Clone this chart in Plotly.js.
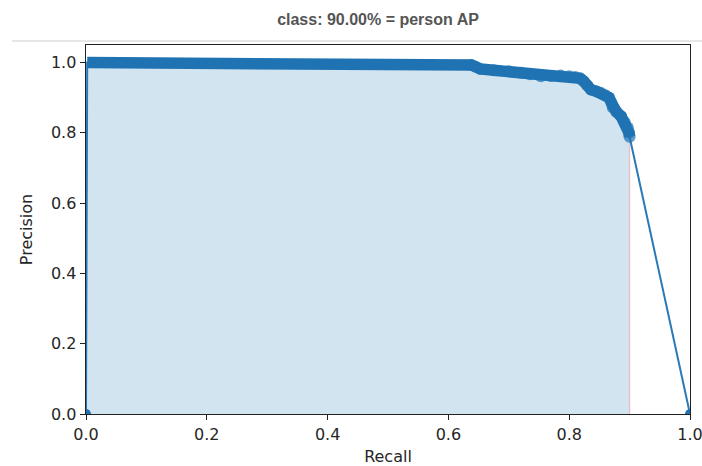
<!DOCTYPE html>
<html>
<head>
<meta charset="utf-8">
<script src="https://cdn.plot.ly/plotly-3.0.1.min.js"></script>
<style>html,body{margin:0;padding:0;background:#fff;}#chart{width:702px;height:466px;}</style>
</head>
<body>
<div id="chart"></div>
<script>
// Precision-recall curve points
const recall = [0.0, 0.002, 0.05, 0.1, 0.2, 0.3, 0.4, 0.476, 0.48, 0.55, 0.6, 0.638, 0.645, 0.653, 0.675, 0.70, 0.72, 0.735, 0.753, 0.77, 0.786, 0.80, 0.81, 0.818, 0.824, 0.83, 0.836, 0.845, 0.852, 0.86, 0.866, 0.87, 0.872, 0.878, 0.886, 0.892, 0.897, 0.899, 0.9, 1.0];
const precision = [0.0, 1.0, 1.0, 1.0, 1.0, 1.0, 1.0, 1.0, 0.993, 0.993, 0.993, 0.993, 0.988, 0.982, 0.978, 0.975, 0.971, 0.967, 0.961, 0.962, 0.963, 0.961, 0.959, 0.955, 0.947, 0.935, 0.923, 0.918, 0.914, 0.907, 0.90, 0.885, 0.872, 0.86, 0.847, 0.83, 0.815, 0.80, 0.789, 0.0];
const tickVals = [0.0, 0.2, 0.4, 0.6, 0.8, 1.0];
const tickText = ["0.0", "0.2", "0.4", "0.6", "0.8", "1.0"];
const titleText = "class: 90.00% = person AP";

// inner points (detections only), without the added endpoints
const innerR = recall.slice(1, recall.length - 1);
const innerP = precision.slice(1, precision.length - 1);
const lastR = innerR[innerR.length - 1];
const lastP = innerP[innerP.length - 1];

const fillTrace = {
  x: [0].concat(innerR).concat([lastR]),
  y: [innerP[0]].concat(innerP).concat([0]),
  mode: 'none', fill: 'tozeroy',
  fillcolor: 'rgba(31,119,180,0.2)',
  hoverinfo: 'skip', showlegend: false
};
const edgeTrace = {
  x: [lastR, lastR], y: [0, lastP], mode: 'lines',
  line: {color: 'rgba(240,150,160,0.55)', width: 1.3},
  hoverinfo: 'skip', showlegend: false
};
const thinTrace = {
  x: recall, y: precision, mode: 'lines',
  line: {color: '#2a7ab8', width: 2},
  showlegend: false
};
const bandTrace = {
  x: innerR, y: innerP, mode: 'lines+markers',
  line: {color: '#1f73b3', width: 11.5},
  marker: {color: '#1f73b3', size: innerR.map(r => (r > 0.6 ? 12 : 0)), line: {width: 0}},
  showlegend: false
};
const endTrace = {
  x: [recall[0], recall[recall.length - 1]],
  y: [precision[0], precision[precision.length - 1]],
  mode: 'markers', marker: {color: '#1f73b3', size: 10, line: {width: 0}},
  showlegend: false
};

const axFont = {family: 'DejaVu Sans', size: 16, color: '#262626'};
const layout = {
  width: 702, height: 466,
  margin: {l: 86, r: 12, t: 45, b: 52},
  paper_bgcolor: '#fff', plot_bgcolor: '#fff',
  title: {text: '<b>' + titleText + '</b>', x: 378 / 702, xref: 'container', xanchor: 'center',
          y: 1 - 19 / 466, yref: 'container', yanchor: 'middle',
          font: {family: 'Liberation Sans', size: 16, color: '#555'}},
  xaxis: {range: [0, 1], tickvals: tickVals, ticktext: tickText, ticks: 'outside', ticklen: 5,
          tickcolor: '#222', showgrid: false, zeroline: false, showline: true, mirror: true,
          linecolor: '#222', linewidth: 1.4, tickfont: axFont, ticklabeloverflow: 'allow',
          title: {text: 'Recall', font: axFont, standoff: 9}},
  yaxis: {range: [0, 1.05], tickvals: tickVals, ticktext: tickText, ticks: 'outside', ticklen: 5,
          tickcolor: '#222', showgrid: false, zeroline: false, showline: true, mirror: true,
          linecolor: '#222', linewidth: 1.4, tickfont: axFont,
          title: {text: 'Precision', font: axFont, standoff: 14}},
  shapes: [{type: 'line', xref: 'paper', yref: 'paper', x0: -74 / 604, x1: 616 / 604,
            y0: 1 + 4 / 369, y1: 1 + 4 / 369, line: {color: '#e6e6e6', width: 2}}]
};
Plotly.newPlot('chart', [fillTrace, edgeTrace, thinTrace, bandTrace, endTrace], layout, {displayModeBar: false, staticPlot: true});
</script>
</body>
</html>
